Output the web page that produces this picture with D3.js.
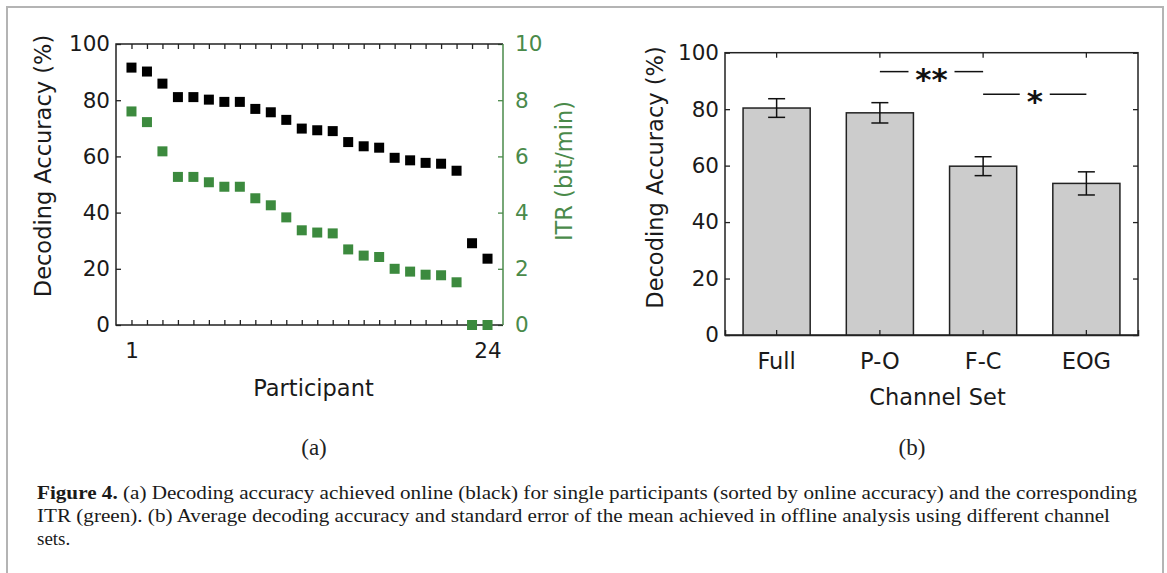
<!DOCTYPE html>
<html>
<head>
<meta charset="utf-8">
<script src="https://cdn.jsdelivr.net/npm/d3@7"></script>
<style>
  body { margin: 0; background: #fff; }
  svg { display: block; }
  .ax text { font-family: "DejaVu Sans", Verdana, sans-serif; }
</style>
</head>
<body>
<div id="chart"></div>
<script>
// ---- data (panel a) ----
var participants = d3.range(1, 25);
var accuracyOnline = [91.6, 90.2, 85.9, 81.1, 81.1, 80.2, 79.4, 79.4, 76.9, 75.7, 73.0, 69.9,
                      69.3, 69.0, 65.1, 63.6, 63.1, 59.5, 58.6, 57.7, 57.4, 54.9, 29.1, 23.6];
var itrOnline = [7.60, 7.22, 6.18, 5.27, 5.27, 5.08, 4.92, 4.92, 4.51, 4.26, 3.83, 3.37,
                 3.29, 3.26, 2.69, 2.47, 2.42, 2.00, 1.90, 1.79, 1.77, 1.52, 0, 0];
var accTicks = [0, 20, 40, 60, 80, 100];
var itrTicks = [0, 2, 4, 6, 8, 10];

// ---- data (panel b) ----
var channelSets = ["Full", "P-O", "F-C", "EOG"];
var meanAccuracy = [80.4, 78.7, 59.8, 53.7];
var semAccuracy = [3.3, 3.6, 3.35, 4.1];
var sigPairs = [["P-O", "F-C", "**", 93.3], ["F-C", "EOG", "*", 85.3]];

var caption = [
  "(a) Decoding accuracy achieved online (black) for single participants (sorted by online accuracy) and the corresponding",
  "ITR (green). (b) Average decoding accuracy and standard error of the mean achieved in offline analysis using different channel",
  "sets."
];

var W = 1167, H = 573;
var green = "#3c8a3e", greenAx = "#4a8a4a", ink = "#222";
var tickFont = "21.5px", labFont = "22.5px";

var svg = d3.select("#chart").append("svg")
    .attr("width", W).attr("height", H);

svg.append("rect").attr("width", W).attr("height", H).attr("fill", "#fff");

// outer frame (open at the bottom)
svg.append("rect")
    .attr("x", 7).attr("y", 7).attr("width", 1156).attr("height", 620)
    .attr("fill", "none").attr("stroke", "#b4b4b4").attr("stroke-width", 2);

/////////////////////////////////////////////////////////////////////////
// PANEL A
/////////////////////////////////////////////////////////////////////////
var ax = { l: 116, r: 503, t: 44, b: 325 };
var x = d3.scaleLinear().domain([0, 25]).range([ax.l, ax.r]);
var y = d3.scaleLinear().domain([0, 100]).range([ax.b, ax.t]);
var yR = d3.scaleLinear().domain([0, 10]).range([ax.b, ax.t]);

var ga = svg.append("g");

// left axis
ga.append("g").attr("class", "ax")
    .attr("transform", "translate(" + ax.l + ",0)")
    .call(d3.axisLeft(y).tickValues(accTicks).tickSize(-5).tickPadding(6))
    .call(function(g) { g.select(".domain").remove(); });

// bottom + top ticks
ga.append("g").attr("class", "ax")
    .attr("transform", "translate(0," + ax.b + ")")
    .call(d3.axisBottom(x).tickValues(participants).tickSize(-5).tickPadding(18)
        .tickFormat(function(d) { return d === 1 || d === 24 ? d : ""; }))
    .call(function(g) { g.select(".domain").remove(); });
ga.append("g").attr("class", "ax")
    .attr("transform", "translate(0," + ax.t + ")")
    .call(d3.axisTop(x).tickValues(participants).tickSize(-5).tickFormat(""))
    .call(function(g) { g.select(".domain").remove(); });

// right (green) axis
ga.append("g").attr("class", "ax axR")
    .attr("transform", "translate(" + ax.r + ",0)")
    .call(d3.axisRight(yR).tickValues(itrTicks).tickSize(-5).tickPadding(12))
    .call(function(g) { g.select(".domain").remove(); });

ga.selectAll(".ax text").style("font-size", tickFont).attr("fill", "#1a1a1a");
ga.selectAll(".ax line").attr("stroke", ink).attr("stroke-width", 1.3);
ga.selectAll(".axR text").attr("fill", greenAx);
ga.selectAll(".axR line").attr("stroke", greenAx);

// box
ga.append("path")
    .attr("d", "M" + ax.r + "," + ax.t + "H" + ax.l + "V" + ax.b + "H" + ax.r)
    .attr("fill", "none").attr("stroke", ink).attr("stroke-width", 1.5);
ga.append("line")
    .attr("x1", ax.r).attr("x2", ax.r).attr("y1", ax.t).attr("y2", ax.b)
    .attr("stroke", greenAx).attr("stroke-width", 1.5);

// markers
var sq = 10;
ga.selectAll("rect.itr").data(itrOnline).enter().append("rect")
    .attr("class", "itr")
    .attr("x", function(d, i) { return x(participants[i]) - sq / 2; })
    .attr("y", function(d) { return yR(d) - sq / 2; })
    .attr("width", sq).attr("height", sq)
    .attr("fill", green);
ga.selectAll("rect.acc").data(accuracyOnline).enter().append("rect")
    .attr("class", "acc")
    .attr("x", function(d, i) { return x(participants[i]) - sq / 2; })
    .attr("y", function(d) { return y(d) - sq / 2; })
    .attr("width", sq).attr("height", sq)
    .attr("fill", "#000");

// axis titles
var titleStyle = function(t) {
  t.attr("font-family", "'DejaVu Sans', Verdana, sans-serif")
   .attr("font-size", labFont).attr("text-anchor", "middle");
};
ga.append("text").call(titleStyle)
    .attr("transform", "translate(51,166) rotate(-90)")
    .attr("fill", "#1a1a1a").text("Decoding Accuracy (%)");
ga.append("text").call(titleStyle)
    .attr("transform", "translate(572,171) rotate(-90)")
    .attr("fill", greenAx).text("ITR (bit/min)");
ga.append("text").call(titleStyle)
    .attr("x", (ax.l + ax.r) / 2 + 4).attr("y", 396)
    .attr("fill", "#1a1a1a").text("Participant");

/////////////////////////////////////////////////////////////////////////
// PANEL B
/////////////////////////////////////////////////////////////////////////
var bx = { l: 725, r: 1138, t: 52.7, b: 335 };
var xb = d3.scaleBand().domain(channelSets).range([bx.l, bx.r])
    .paddingInner(0.35).paddingOuter(0.175);
var yb = d3.scaleLinear().domain([0, 100]).range([bx.b, bx.t]);

var gb = svg.append("g");

gb.append("g").attr("class", "ax")
    .attr("transform", "translate(" + bx.l + ",0)")
    .call(d3.axisLeft(yb).tickValues(accTicks).tickSize(-5).tickPadding(6));
gb.append("g").attr("class", "ax")
    .attr("transform", "translate(" + bx.r + ",0)")
    .call(d3.axisRight(yb).tickValues(accTicks).tickSize(-5).tickFormat(""));
gb.append("g").attr("class", "ax")
    .attr("transform", "translate(0," + bx.t + ")")
    .call(d3.axisTop(xb).tickSize(-5).tickFormat(""));

gb.selectAll(".ax .domain").remove();
gb.selectAll(".ax text").style("font-size", tickFont).attr("fill", "#1a1a1a");
gb.selectAll(".ax line").attr("stroke", ink).attr("stroke-width", 1.3);

gb.append("rect")
    .attr("x", bx.l).attr("y", bx.t)
    .attr("width", bx.r - bx.l).attr("height", bx.b - bx.t)
    .attr("fill", "none").attr("stroke", ink).attr("stroke-width", 1.5);

// bars
gb.selectAll("rect.bar").data(meanAccuracy).enter().append("rect")
    .attr("class", "bar")
    .attr("x", function(d, i) { return xb(channelSets[i]); })
    .attr("y", function(d) { return yb(d); })
    .attr("width", xb.bandwidth())
    .attr("height", function(d) { return yb(0) - yb(d); })
    .attr("fill", "#cccccc").attr("stroke", ink).attr("stroke-width", 1.5);

// bottom axis drawn over the bars
var bottomAx = gb.append("g").attr("class", "ax")
    .attr("transform", "translate(0," + bx.b + ")")
    .call(d3.axisBottom(xb).tickSize(-5).tickPadding(18));
bottomAx.select(".domain").attr("stroke", ink).attr("stroke-width", 1.5);
bottomAx.selectAll("text").style("font-size", labFont).attr("fill", "#1a1a1a");
bottomAx.selectAll("line").attr("stroke", ink).attr("stroke-width", 1.3);

// error bars
var cap = 8.5;
var eb = gb.selectAll("g.err").data(meanAccuracy).enter().append("g")
    .attr("class", "err")
    .attr("transform", function(d, i) {
      return "translate(" + (xb(channelSets[i]) + xb.bandwidth() / 2) + ",0)";
    });
eb.append("line")
    .attr("y1", function(d, i) { return yb(d - semAccuracy[i]); })
    .attr("y2", function(d, i) { return yb(d + semAccuracy[i]); });
eb.append("line").attr("x1", -cap).attr("x2", cap)
    .attr("y1", function(d, i) { return yb(d + semAccuracy[i]); })
    .attr("y2", function(d, i) { return yb(d + semAccuracy[i]); });
eb.append("line").attr("x1", -cap).attr("x2", cap)
    .attr("y1", function(d, i) { return yb(d - semAccuracy[i]); })
    .attr("y2", function(d, i) { return yb(d - semAccuracy[i]); });
eb.selectAll("line").attr("stroke", "#111").attr("stroke-width", 1.5);

// significance markers
var sig = gb.selectAll("g.sig").data(sigPairs).enter().append("g").attr("class", "sig");
sig.each(function(d) {
  var g = d3.select(this);
  var x1 = xb(d[0]) + xb.bandwidth() / 2, x2 = xb(d[1]) + xb.bandwidth() / 2;
  var xm = (x1 + x2) / 2, yy = yb(d[3]);
  var half = d[2].length * 8 + 7;
  g.append("line").attr("x1", x1).attr("x2", xm - half).attr("y1", yy).attr("y2", yy);
  g.append("line").attr("x1", xm + half).attr("x2", x2).attr("y1", yy).attr("y2", yy);
  g.selectAll("line").attr("stroke", "#111").attr("stroke-width", 1.5);
  g.append("text")
      .attr("x", xm).attr("y", yy + 18)
      .attr("text-anchor", "middle")
      .attr("font-family", "'DejaVu Sans', sans-serif")
      .attr("font-weight", "bold")
      .attr("font-size", "31px")
      .attr("fill", "#111")
      .text(d[2]);
});

gb.append("text").call(titleStyle)
    .attr("transform", "translate(663,177.5) rotate(-90)")
    .attr("fill", "#1a1a1a").text("Decoding Accuracy (%)");
gb.append("text").call(titleStyle)
    .attr("x", (bx.l + bx.r) / 2 + 6).attr("y", 405)
    .attr("fill", "#1a1a1a").text("Channel Set");

/////////////////////////////////////////////////////////////////////////
// panel letters + caption
/////////////////////////////////////////////////////////////////////////
var serif = "'Liberation Serif', 'Times New Roman', serif";
svg.append("text").attr("x", 314).attr("y", 455).attr("text-anchor", "middle")
    .attr("font-family", serif).attr("font-size", "23px").attr("fill", "#222").text("(a)");
svg.append("text").attr("x", 912).attr("y", 455).attr("text-anchor", "middle")
    .attr("font-family", serif).attr("font-size", "23px").attr("fill", "#222").text("(b)");

var capWidths = [1100, 1073, null];
caption.forEach(function(line, i) {
  var t = svg.append("text")
      .attr("x", 37).attr("y", 499 + i * 23)
      .attr("font-family", serif).attr("font-size", "19px").attr("fill", "#1a1a1a");
  if (i === 0) {
    t.append("tspan").attr("font-weight", "bold").text("Figure 4. ");
  }
  t.append("tspan").text(line);
  if (capWidths[i]) t.attr("textLength", capWidths[i]).attr("lengthAdjust", "spacingAndGlyphs");
});
</script>
</body>
</html>
